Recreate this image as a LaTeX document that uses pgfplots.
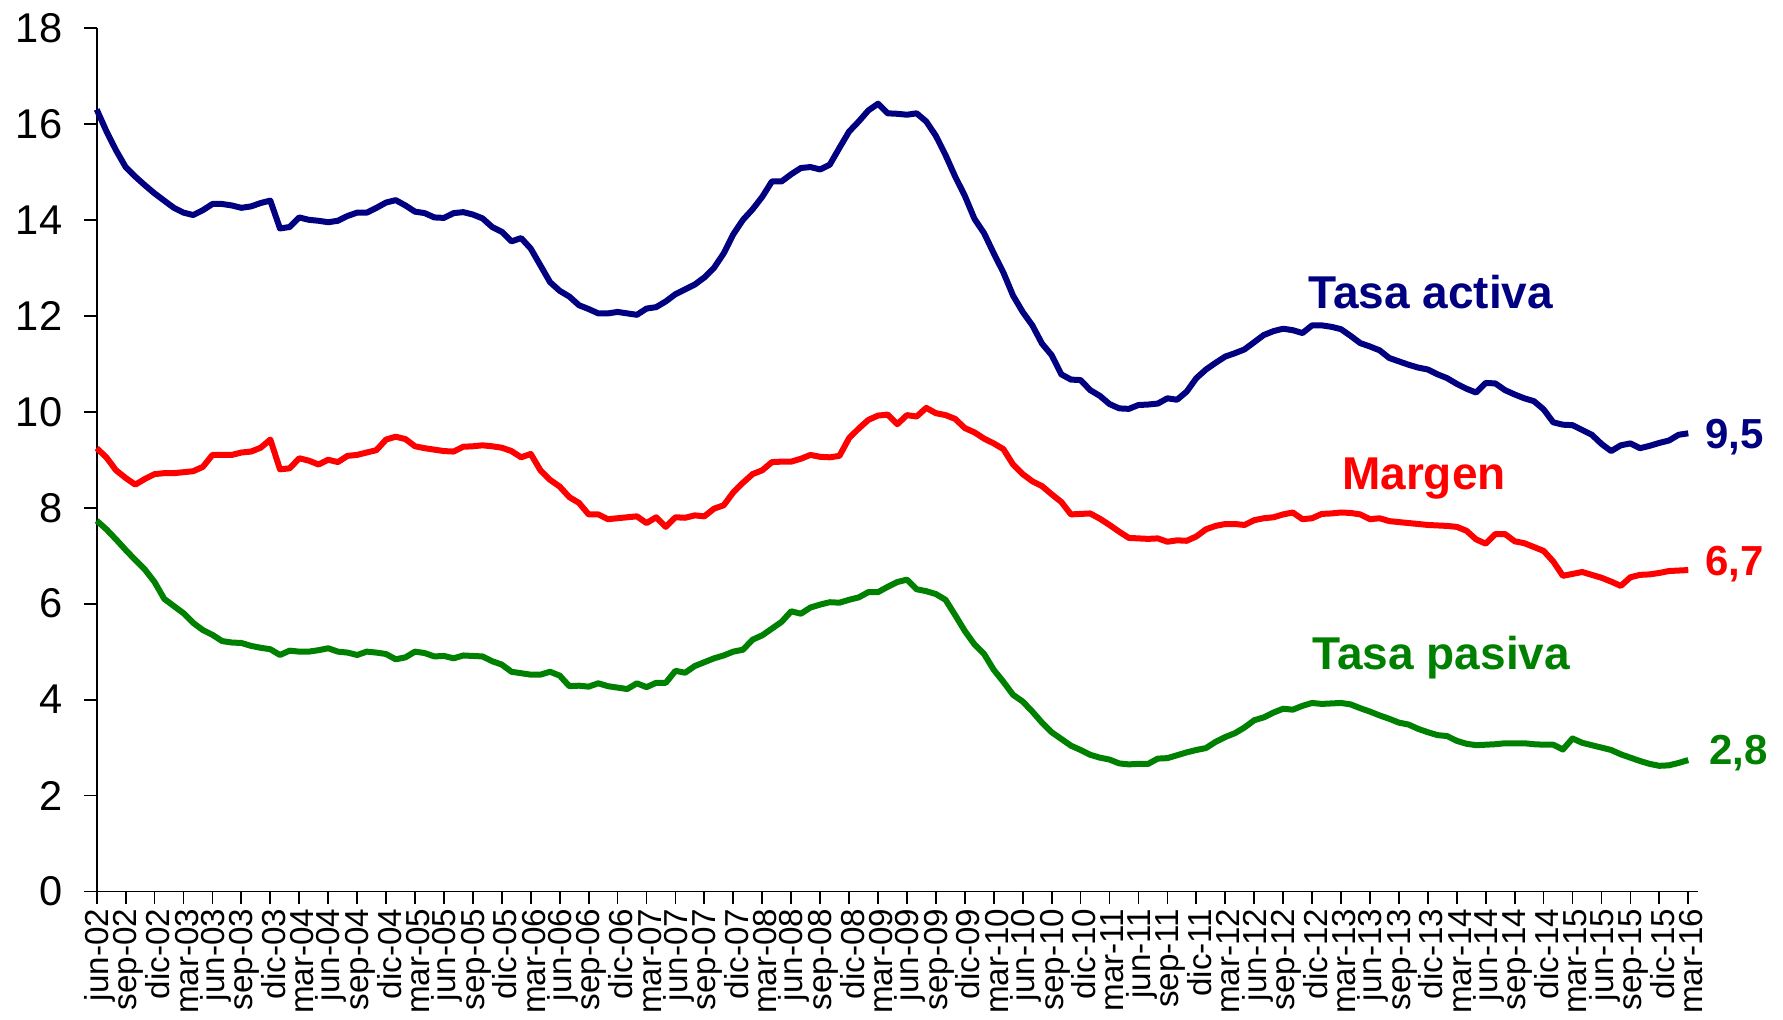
\documentclass[border=0pt]{standalone}
\usepackage{fontspec}
\setmainfont{Liberation Sans}
\usepackage{pgfplots}
\usepackage{pgfplotstable}
\pgfplotsset{compat=1.18}
\definecolor{cnavy}{RGB}{0,0,128}
\definecolor{cred}{RGB}{255,0,0}
\definecolor{cgreen}{RGB}{0,128,0}
\pgfplotstableread{
m a mg p
0 16.30 9.24 7.73
1 15.85 9.05 7.55
2 15.45 8.78 7.34
3 15.10 8.62 7.12
4 14.90 8.48 6.91
5 14.72 8.60 6.71
6 14.55 8.70 6.45
7 14.40 8.72 6.10
8 14.25 8.72 5.95
9 14.15 8.74 5.80
10 14.10 8.76 5.60
11 14.20 8.85 5.45
12 14.33 9.10 5.35
13 14.33 9.10 5.22
14 14.30 9.10 5.19
15 14.25 9.15 5.18
16 14.28 9.17 5.12
17 14.35 9.25 5.08
18 14.40 9.42 5.05
19 13.82 8.80 4.93
20 13.85 8.82 5.02
21 14.05 9.03 5.00
22 14.00 8.98 5.00
23 13.98 8.90 5.03
24 13.95 9.00 5.07
25 13.98 8.95 5.00
26 14.08 9.08 4.98
27 14.15 9.10 4.93
28 14.15 9.15 5.00
29 14.25 9.20 4.98
30 14.36 9.42 4.95
31 14.41 9.48 4.84
32 14.30 9.43 4.88
33 14.17 9.28 5.00
34 14.14 9.24 4.97
35 14.05 9.21 4.90
36 14.04 9.18 4.91
37 14.14 9.17 4.86
38 14.16 9.27 4.92
39 14.11 9.28 4.91
40 14.03 9.30 4.90
41 13.85 9.28 4.80
42 13.75 9.25 4.73
43 13.55 9.18 4.58
44 13.62 9.05 4.55
45 13.40 9.12 4.52
46 13.05 8.78 4.52
47 12.70 8.58 4.58
48 12.52 8.44 4.50
49 12.40 8.22 4.28
50 12.22 8.10 4.29
51 12.14 7.86 4.27
52 12.05 7.86 4.34
53 12.05 7.76 4.28
54 12.08 7.78 4.25
55 12.05 7.80 4.22
56 12.02 7.82 4.34
57 12.15 7.68 4.26
58 12.18 7.80 4.35
59 12.30 7.60 4.35
60 12.45 7.80 4.60
61 12.55 7.79 4.56
62 12.65 7.84 4.70
63 12.80 7.82 4.78
64 13.00 7.98 4.86
65 13.30 8.05 4.92
66 13.70 8.32 5.00
67 14.00 8.52 5.04
68 14.22 8.70 5.25
69 14.48 8.78 5.34
70 14.80 8.95 5.48
71 14.80 8.96 5.62
72 14.95 8.96 5.84
73 15.08 9.02 5.79
74 15.10 9.10 5.92
75 15.05 9.06 5.98
76 15.15 9.05 6.03
77 15.50 9.08 6.02
78 15.84 9.45 6.08
79 16.05 9.65 6.13
80 16.28 9.83 6.24
81 16.42 9.92 6.24
82 16.22 9.94 6.35
83 16.21 9.74 6.45
84 16.19 9.93 6.50
85 16.22 9.90 6.30
86 16.05 10.08 6.26
87 15.75 9.97 6.20
88 15.35 9.93 6.08
89 14.90 9.85 5.76
90 14.50 9.66 5.43
91 14.02 9.57 5.15
92 13.72 9.44 4.95
93 13.30 9.34 4.62
94 12.90 9.22 4.37
95 12.42 8.90 4.10
96 12.08 8.70 3.96
97 11.80 8.55 3.75
98 11.42 8.45 3.52
99 11.18 8.28 3.32
100 10.78 8.12 3.18
101 10.67 7.86 3.04
102 10.66 7.87 2.95
103 10.45 7.88 2.85
104 10.33 7.77 2.79
105 10.16 7.64 2.75
106 10.07 7.50 2.67
107 10.06 7.37 2.65
108 10.14 7.36 2.66
109 10.15 7.35 2.66
110 10.17 7.36 2.77
111 10.28 7.29 2.78
112 10.25 7.32 2.84
113 10.42 7.31 2.90
114 10.70 7.40 2.95
115 10.88 7.55 2.99
116 11.02 7.62 3.12
117 11.15 7.66 3.22
118 11.22 7.66 3.30
119 11.30 7.64 3.42
120 11.45 7.74 3.57
121 11.60 7.78 3.63
122 11.68 7.80 3.73
123 11.73 7.86 3.81
124 11.70 7.90 3.79
125 11.64 7.76 3.87
126 11.80 7.78 3.93
127 11.80 7.87 3.91
128 11.77 7.88 3.92
129 11.72 7.90 3.93
130 11.58 7.89 3.90
131 11.43 7.86 3.82
132 11.36 7.76 3.75
133 11.28 7.78 3.67
134 11.12 7.72 3.60
135 11.05 7.70 3.52
136 10.98 7.68 3.48
137 10.92 7.66 3.39
138 10.88 7.64 3.32
139 10.78 7.63 3.26
140 10.70 7.62 3.24
141 10.58 7.60 3.14
142 10.48 7.52 3.08
143 10.40 7.34 3.05
144 10.60 7.25 3.06
145 10.59 7.45 3.07
146 10.45 7.45 3.09
147 10.36 7.30 3.09
148 10.28 7.26 3.09
149 10.22 7.18 3.07
150 10.05 7.10 3.06
151 9.78 6.88 3.06
152 9.73 6.58 2.96
153 9.72 6.62 3.19
154 9.62 6.66 3.10
155 9.52 6.60 3.05
156 9.33 6.54 3.00
157 9.18 6.46 2.95
158 9.30 6.37 2.86
159 9.34 6.55 2.79
160 9.24 6.60 2.72
161 9.29 6.61 2.66
162 9.35 6.64 2.62
163 9.40 6.68 2.63
164 9.52 6.69 2.68
165 9.55 6.70 2.74
}\data

\begin{document}
\begin{tikzpicture}
\useasboundingbox (0,0) rectangle (445.75pt,254.75pt);
\begin{axis}[
  at={(24.175pt,31.875pt)}, anchor=south west,
  scale only axis, width=400.3pt, height=215.9pt,
  xmin=0, xmax=166, ymin=0, ymax=18,
  axis x line=bottom, axis y line=left,
  axis line style={-, line width=0.45pt, black},
  tick align=outside, major tick length=3.1pt,
  tick style={black, line width=0.45pt},
  xtick={0,3,...,165},
  xticklabels={jun-02,sep-02,dic-02,mar-03,jun-03,sep-03,dic-03,mar-04,jun-04,sep-04,dic-04,mar-05,jun-05,sep-05,dic-05,mar-06,jun-06,sep-06,dic-06,mar-07,jun-07,sep-07,dic-07,mar-08,jun-08,sep-08,dic-08,mar-09,jun-09,sep-09,dic-09,mar-10,jun-10,sep-10,dic-10,mar-11,jun-11,sep-11,dic-11,mar-12,jun-12,sep-12,dic-12,mar-13,jun-13,sep-13,dic-13,mar-14,jun-14,sep-14,dic-14,mar-15,jun-15,sep-15,dic-15,mar-16},
  xticklabel style={rotate=90, anchor=east, font=\fontsize{8.3pt}{9pt}\selectfont, inner sep=1pt, yshift=-0.8pt},
  ytick={0,2,...,18},
  yticklabel style={font=\fontsize{10.4pt}{12pt}\selectfont, xshift=-2pt},
  /pgf/number format/assume math mode=true,
  clip=false,
]
\addplot[cnavy, line width=1.5pt, line join=round] table[x=m,y=a] {\data};
\addplot[cred, line width=1.5pt, line join=round] table[x=m,y=mg] {\data};
\addplot[cgreen, line width=1.5pt, line join=round] table[x=m,y=p] {\data};
\node[anchor=base, inner sep=0pt, text=cnavy, font=\bfseries\fontsize{11.5pt}{13pt}\selectfont] at (axis cs:138.3,12.16) {Tasa activa};
\node[anchor=base, inner sep=0pt, text=cred, font=\bfseries\fontsize{11.5pt}{13pt}\selectfont] at (axis cs:137.6,8.37) {Margen};
\node[anchor=base, inner sep=0pt, text=cgreen, font=\bfseries\fontsize{11.5pt}{13pt}\selectfont] at (axis cs:139.4,4.62) {Tasa pasiva};
\node[anchor=base west, inner sep=0pt, text=cnavy, font=\bfseries\fontsize{10.5pt}{12pt}\selectfont] at (axis cs:166.7,9.24) {9,5};
\node[anchor=base west, inner sep=0pt, text=cred, font=\bfseries\fontsize{10.5pt}{12pt}\selectfont] at (axis cs:166.7,6.59) {6,7};
\node[anchor=base west, inner sep=0pt, text=cgreen, font=\bfseries\fontsize{10.5pt}{12pt}\selectfont] at (axis cs:167.1,2.65) {2,8};
\end{axis}
\end{tikzpicture}
\end{document}
